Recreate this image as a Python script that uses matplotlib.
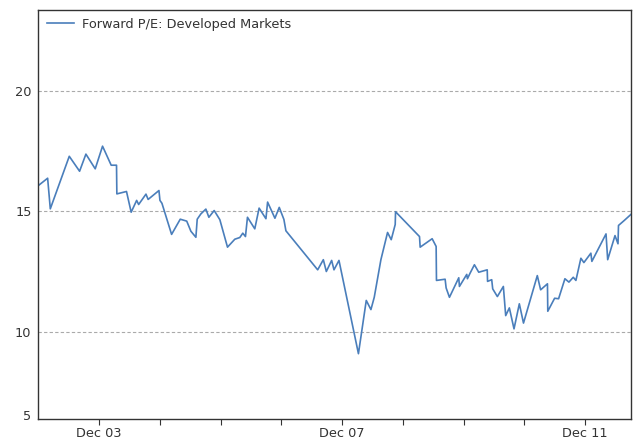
import matplotlib
matplotlib.use("Agg")
import matplotlib.pyplot as plt
import matplotlib.dates as mdates
import pandas as pd

dates = [
    "2002-12-03", "2003-01-27", "2003-02-12", "2003-06-06", "2003-08-07", "2003-09-14",
    "2003-11-09", "2003-12-23", "2004-02-13", "2004-03-16", "2004-03-18", "2004-05-15",
    "2004-06-12", "2004-07-15", "2004-07-27", "2004-09-09", "2004-09-22", "2004-11-26",
    "2004-12-02", "2004-12-14", "2005-02-10", "2005-04-03", "2005-05-12", "2005-06-06",
    "2005-07-06", "2005-07-14", "2005-08-05", "2005-09-04", "2005-09-22", "2005-10-24",
    "2005-11-27", "2006-01-12", "2006-02-25", "2006-03-27", "2006-04-14", "2006-04-30",
    "2006-05-12", "2006-06-25", "2006-07-21", "2006-08-31", "2006-09-10", "2006-10-24",
    "2006-11-19", "2006-12-17", "2006-12-29", "2007-07-08", "2007-08-11", "2007-08-29",
    "2007-09-30", "2007-10-14", "2007-11-13", "2008-03-09", "2008-04-25", "2008-05-23",
    "2008-06-12", "2008-07-22", "2008-08-31", "2008-09-22", "2008-10-16", "2008-10-18",
    "2009-03-11", "2009-03-15", "2009-05-26", "2009-06-19", "2009-06-21", "2009-08-12",
    "2009-08-18", "2009-09-07", "2009-11-02", "2009-11-06", "2009-12-20", "2009-12-24",
    "2010-01-09", "2010-02-04", "2010-03-02", "2010-04-22", "2010-04-24", "2010-05-19",
    "2010-05-25", "2010-06-22", "2010-07-28", "2010-08-11", "2010-09-02", "2010-09-30",
    "2010-11-01", "2010-11-26", "2011-02-17", "2011-03-09", "2011-04-19", "2011-04-21",
    "2011-06-01", "2011-06-25", "2011-08-02", "2011-08-26", "2011-09-21", "2011-10-07",
    "2011-11-06", "2011-11-24", "2012-01-05", "2012-01-11", "2012-04-05", "2012-04-15",
    "2012-05-29", "2012-06-16", "2012-06-19", "2012-07-24", "2012-09-02",
]

forward_pe = [
    16.08, 16.38, 15.11, 17.29, 16.67, 17.38,
    16.77, 17.71, 16.92, 16.92, 15.73, 15.83,
    14.97, 15.46, 15.29, 15.72, 15.50, 15.87,
    15.46, 15.34, 14.05, 14.68, 14.60, 14.18,
    13.93, 14.68, 14.90, 15.10, 14.76, 15.04,
    14.66, 13.52, 13.85, 13.92, 14.10, 13.96,
    14.76, 14.28, 15.14, 14.70, 15.39, 14.72,
    15.17, 14.67, 14.20, 12.58, 13.00, 12.51,
    12.97, 12.58, 12.97, 9.10, 11.31, 10.93,
    11.44, 13.00, 14.13, 13.83, 14.46, 14.99,
    13.96, 13.52, 13.87, 13.55, 12.14, 12.19,
    11.83, 11.44, 12.25, 11.89, 12.39, 12.21,
    12.44, 12.79, 12.48, 12.58, 12.10, 12.17,
    11.79, 11.47, 11.89, 10.68, 11.00, 10.13,
    11.17, 10.37, 12.34, 11.75, 12.00, 10.86,
    11.40, 11.38, 12.21, 12.07, 12.27, 12.14,
    13.06, 12.88, 13.27, 12.93, 14.07, 13.00,
    14.00, 13.66, 14.42, 14.63, 14.88,
]

series_label = "Forward P/E: Developed Markets"

x_tick_dates = ["2003-12-01", "2004-12-01", "2005-12-01", "2006-12-01", "2007-12-01",
                "2008-12-01", "2009-12-01", "2010-12-01", "2011-12-01"]
x_tick_labels = ["Dec 03", "", "", "", "Dec 07", "", "", "", "Dec 11"]

y_grid_values = [10, 15, 20]
y_grid_labels = ["10", "15", "20"]
y_bottom_value = 6.55
y_bottom_label = "5"
y_limits = (6.39, 23.38)

x = pd.to_datetime(dates)
xt = pd.to_datetime(x_tick_dates)

fig = plt.figure(figsize=(6.33, 4.40), dpi=100)
ax = fig.add_axes([0.0608, 0.0477, 0.9360, 0.9307])

ax.plot(x, forward_pe, color="#4a7ebb", linewidth=1.2, label=series_label)

ax.set_xlim(x[0], x[-1])
ax.set_ylim(*y_limits)

ax.set_xticks(xt)
ax.set_xticklabels(x_tick_labels)
ax.set_yticks(y_grid_values)
ax.set_yticklabels(y_grid_labels)
ax.set_yticks([y_bottom_value], minor=True)
ax.set_yticklabels([y_bottom_label], minor=True)

ax.grid(axis="y", which="major", color="#aaaaaa", linestyle=(0, (3, 2)), linewidth=0.8)
ax.tick_params(axis="y", which="both", length=0, pad=5, labelsize=9.3, labelcolor="#333333")
ax.tick_params(axis="x", which="major", length=4, direction="out", color="#333333",
               pad=2.0, labelsize=9.3, labelcolor="#333333")

for s in ax.spines.values():
    s.set_color("#333333")
    s.set_linewidth(1.0)

leg = ax.legend(loc="upper left", frameon=False, fontsize=9.3, handlelength=2.1,
                borderaxespad=0.25, handletextpad=0.65)
for t in leg.get_texts():
    t.set_color("#333333")

fig.savefig("out.png", dpi=100)
